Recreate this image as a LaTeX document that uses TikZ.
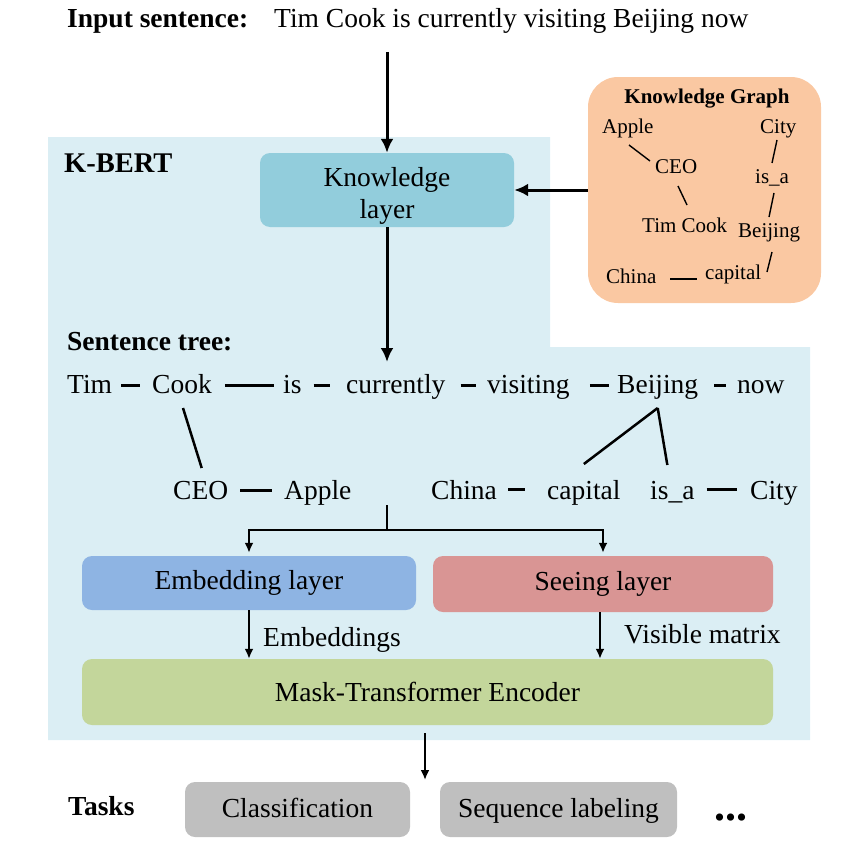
\documentclass[tikz,border=0pt]{standalone}
\usepackage{fontspec}
\setmainfont{Liberation Serif}
\usetikzlibrary{arrows.meta,calc}
\definecolor{kbg}{HTML}{DBEEF4}
\definecolor{klayer}{HTML}{92CDDC}
\definecolor{kgc}{HTML}{FAC8A2}
\definecolor{emb}{HTML}{8EB4E3}
\definecolor{see}{HTML}{D99594}
\definecolor{maskc}{HTML}{C3D69B}
\definecolor{taskc}{HTML}{BFBFBF}
\begin{document}
\begin{tikzpicture}[x=1pt,y=-1pt,
 big/.style={font=\fontsize{27.5}{32}\selectfont},
 bigb/.style={font=\fontsize{27.5}{32}\selectfont\bfseries},
 small/.style={font=\fontsize{21}{25}\selectfont, inner sep=0pt, anchor=base west},
 word/.style={big, anchor=base west, inner xsep=9pt, inner ysep=3pt},
 label/.style={big, anchor=base west, inner sep=0pt},
 title/.style={bigb, anchor=base west, inner sep=0pt},
 box/.style={rounded corners=10pt, big, draw=none, inner sep=0pt, align=center},
 taskbox/.style={box, fill=taskc, minimum height=55pt, text height=19pt, text depth=3pt},
 thickarrow/.style={line width=3pt, -{Latex[length=14pt,width=13pt]}},
 thinarrow/.style={line width=2pt, -{Latex[length=10pt,width=9pt]}},
 link/.style={line width=3pt},
 klink/.style={line width=1.4pt},
]
\useasboundingbox (0,0) rectangle (866,843);
% K-BERT background
\fill[kbg] (48,137) -- (550,137) -- (550,347) -- (810,347) -- (810,740) -- (48,740) -- cycle;

% header
\node[title] (inlab) at (67,28) {Input sentence:};
\node[label] (insent) at (274,28) {Tim Cook is currently visiting Beijing now};
\coordinate (instart) at (387,52);

% labels
\node[title, font=\fontsize{28.5}{32}\selectfont\bfseries] (kbert) at (64,172) {K-BERT};
\node[title] (stree) at (67,350) {Sentence tree:};

% knowledge layer
\node[box, fill=klayer, minimum width=254pt, minimum height=74pt] (know) at (387,190) {};
\node[big, align=center, inner sep=0pt] (knowtxt) at (387,196) {Knowledge\\layer};

% knowledge graph
\node[rounded corners=30pt, fill=kgc, minimum width=233pt, minimum height=226pt, inner sep=0pt] (kgbox) at (704.5,190) {};
\node[font=\fontsize{21}{25}\selectfont\bfseries, inner sep=0pt, anchor=base] (kgt) at (707,103) {Knowledge Graph};
\node[small] (kapple) at (602,133) {Apple};
\node[small] (kcity) at (760,133) {City};
\node[small] (kceo) at (655,173) {CEO};
\node[small] (kisa) at (755,183) {is\_a};
\node[small] (ktim) at (642,232) {Tim Cook};
\node[small] (kbei) at (738,237) {Beijing};
\node[small] (kchina) at (606,283) {China};
\node[small] (kcap) at (705,279) {capital};
\draw[klink] ($(kapple.base west)+(27,12)$) -- ($(kceo.base west)+(-5,-12)$);
\draw[klink] ($(kceo.base west)+(23,13)$) -- ($(ktim.base west)+(45,-27)$);
\draw[klink] ($(kcity.base west)+(17,7)$) -- ($(kisa.base west)+(17,-20)$);
\draw[klink] ($(kisa.base west)+(19,10)$) -- ($(kbei.base west)+(31,-20)$);
\draw[klink] ($(kbei.base west)+(34,15)$) -- ($(kcap.base west)+(62,-7)$);
\draw[klink] ($(kchina.base west)+(64,-4)$) -- ($(kcap.base west)+(-8,0)$);

% arrows at top
\draw[thickarrow] (instart) -- (know.north);
\draw[thickarrow] (kgbox.west) -- (know.east);
\coordinate (treetop) at (387,362);
\draw[thickarrow] (know.south) -- (treetop);

% sentence tree row 1
\node[word] (tim) at (58,393) {Tim};
\node[word] (cook) at (143,393) {Cook};
\node[word] (is) at (274,393) {is};
\node[word] (cur) at (337,393) {currently};
\node[word] (vis) at (478,393) {visiting};
\node[word] (bei) at (608,393) {Beijing};
\node[word] (now) at (728,393) {now};
\draw[link, shorten >=3pt] ($(tim.base east)+(0,-8)$) -- ($(cook.base west)+(0,-8)$);
\draw[link, shorten <=4pt] ($(cook.base east)+(0,-8)$) -- ($(is.base west)+(0,-8)$);
\draw[link, shorten <=3pt, shorten >=7pt] ($(is.base east)+(0,-8)$) -- ($(cur.base west)+(0,-8)$);
\draw[link, shorten <=6pt, shorten >=2pt] ($(cur.base east)+(0,-8)$) -- ($(vis.base west)+(0,-8)$);
\draw[link, shorten <=11pt, shorten >=-1pt] ($(vis.base east)+(0,-8)$) -- ($(bei.base west)+(0,-8)$);
\draw[link, shorten <=7pt, shorten >=2pt] ($(bei.base east)+(0,-8)$) -- ($(now.base west)+(0,-8)$);

% sentence tree row 2
\node[word] (ceo) at (164,499) {CEO};
\node[word] (apple) at (275,499) {Apple};
\node[word] (china) at (422,499) {China};
\node[word] (cap) at (538,499) {capital};
\node[word] (isa) at (641,499) {is\_a};
\node[word] (city) at (741,499) {City};
\draw[link, shorten <=3pt, shorten >=3pt] ($(ceo.base east)+(0,-9)$) -- ($(apple.base west)+(0,-9)$);
\draw[link, shorten <=2pt, shorten >=13pt] ($(china.base east)+(0,-10)$) -- ($(cap.base west)+(0,-10)$);
\draw[link, shorten <=3pt, shorten >=4pt] ($(isa.base east)+(0,-10)$) -- ($(city.base west)+(0,-10)$);

% tree branches
\draw[link, line width=2.5pt] ($(cook.base)+(1,15)$) -- ($(ceo.base)+(1,-31)$);
\draw[link, line width=2.5pt] ($(bei.base)+(0,15)$) -- ($(cap.base)+(0,-35)$);
\draw[link, line width=2.5pt] ($(bei.base)+(0,15)$) -- ($(isa.base)+(-5,-34)$);

% layers
\node[box, fill=emb, minimum width=334pt, minimum height=54pt] (embl) at (249,583) {Embedding layer};
\node[box, fill=see, minimum width=340pt, minimum height=56pt] (seel) at (603,584) {Seeing layer};
\node[box, fill=maskc, minimum width=691pt, minimum height=66pt] (mask) at (427.5,692) {Mask-Transformer Encoder};

\coordinate (split) at (387,505);
\draw[thinarrow, shorten >=3pt] (split) -- ++(0,25) -| (embl.north);
\draw[thinarrow, shorten >=3pt] (split) -- ++(0,25) -| (seel.north);

\draw[thinarrow] (embl.south) -- (embl.south |- mask.north);
\draw[thinarrow] ($(seel.south)+(-3,0)$) -- ($(seel.south |- mask.north)+(-3,0)$);
\node[label] (embtxt) at (263,646) {Embeddings};
\node[label] (vistxt) at (624,643) {Visible matrix};

% tasks
\node[title] (tasks) at (68,815) {Tasks};
\node[taskbox, minimum width=225pt] (cls) at (297.5,809.5) {Classification};
\node[taskbox, minimum width=237pt] (seq) at (558.5,809.5) {Sequence labeling};
\node[font=\fontsize{44}{44}\selectfont\bfseries, inner sep=0pt, anchor=base west] (dots) at (714,820) {...};
\coordinate (taskin) at (425,780);
\draw[thinarrow, shorten <=8pt] ($(mask.south)+(-2.5,0)$) -- (taskin);
\end{tikzpicture}
\end{document}
